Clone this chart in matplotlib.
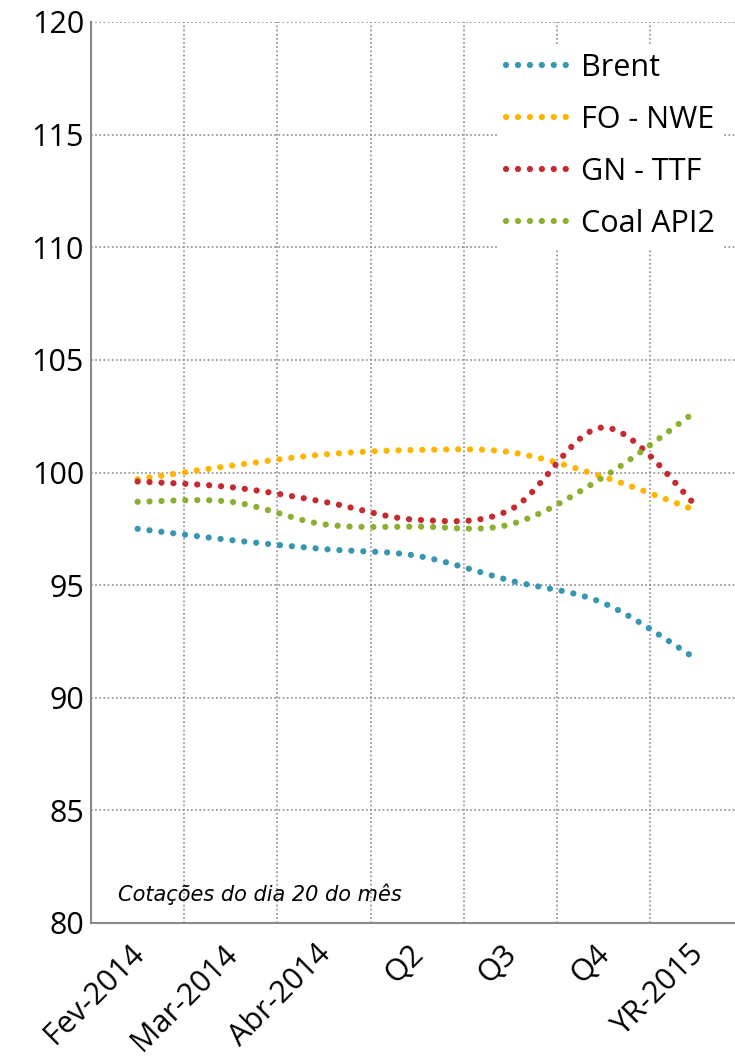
import numpy as np
import matplotlib.pyplot as plt
import matplotlib.transforms as mtransforms

categories = ["Fev-2014", "Mar-2014", "Abr-2014", "Q2", "Q3", "Q4", "YR-2015"]
brent = [97.5, 97.0, 96.6, 96.3, 95.2, 94.2, 91.7]
fo_nwe = [99.7, 100.3, 100.8, 101.0, 100.9, 99.8, 98.3]
gn_ttf = [99.6, 99.35, 98.7, 97.9, 98.35, 102.0, 98.5]
coal_api2 = [98.7, 98.7, 97.7, 97.6, 97.7, 99.8, 102.75]
y_ticks = list(range(80, 121, 5))

series = [
    ("Brent", brent, "#3797B1"),
    ("FO - NWE", fo_nwe, "#FFB400"),
    ("GN - TTF", gn_ttf, "#C62A30"),
    ("Coal API2", coal_api2, "#8BAF2F"),
]


def smooth(values, n=40):
    # Excel-style smoothed line: cubic Bezier through the points (Catmull-Rom)
    x = np.arange(len(values), dtype=float)
    y = np.asarray(values, dtype=float)
    px = np.concatenate([[x[0]], x, [x[-1]]])
    py = np.concatenate([[y[0]], y, [y[-1]]])
    t = np.linspace(0, 1, n)[:, None]
    out = []
    for i in range(len(x) - 1):
        p0 = np.array([px[i], py[i]])
        p1 = np.array([px[i + 1], py[i + 1]])
        p2 = np.array([px[i + 2], py[i + 2]])
        p3 = np.array([px[i + 3], py[i + 3]])
        c1 = p1 + (p2 - p0) / 6
        c2 = p2 - (p3 - p1) / 6
        seg = ((1 - t) ** 3) * p1 + 3 * ((1 - t) ** 2) * t * c1 + 3 * (1 - t) * t ** 2 * c2 + t ** 3 * p2
        out.append(seg if i == 0 else seg[1:])
    pts = np.vstack(out)
    return pts[:, 0], pts[:, 1]


plt.rcParams["font.family"] = ["Open Sans", "DejaVu Sans"]

fig = plt.figure(figsize=(7.35, 10.56), dpi=100)
ax = fig.add_axes([91 / 735, 1 - 923 / 1056, 644 / 735, 901 / 1056])

for name, vals, color in series:
    xs, ys = smooth(vals)
    ax.plot(xs, ys, color=color, lw=4.5, linestyle=(0, (0.01, 1.9)),
            dash_capstyle="round", label=name)

ax.set_xlim(-0.5, -0.5 + 644 / 93.2)
ax.set_ylim(80, 120)
ax.set_yticks(y_ticks)
ax.set_xticks(range(len(categories)))
ax.set_xticks(np.arange(0.5, len(categories) - 1, 1.0), minor=True)
ax.set_xticklabels(categories)

ax.grid(axis="y", which="major", color="#8c8c8c", linestyle=(0, (1, 1.5)), lw=1.2)
ax.grid(axis="x", which="minor", color="#8c8c8c", linestyle=(0, (1, 1.5)), lw=1.2)
ax.set_axisbelow(True)

for side in ("top", "right"):
    ax.spines[side].set_visible(False)
for side in ("left", "bottom"):
    ax.spines[side].set_color("#8a8a8a")
    ax.spines[side].set_linewidth(1.5)

ax.tick_params(axis="both", which="both", length=0)
ax.tick_params(axis="y", labelsize=22, pad=5)
ax.tick_params(axis="x", labelsize=22, pad=19)
offset = mtransforms.ScaledTranslation(2 / 100, 0, fig.dpi_scale_trans)
for lab in ax.get_xticklabels():
    lab.set_rotation(45)
    lab.set_ha("right")
    lab.set_va("center")
    lab.set_rotation_mode("anchor")
    lab.set_transform(lab.get_transform() + offset)

# note placed in pixel coordinates (from bottom-left of the figure)
fig.text(118 / 735, 1 - 901 / 1056, "Cotações do dia 20 do mês", fontsize=15,
         family="DejaVu Sans", style="italic", ha="left", va="baseline")

leg = ax.legend(loc="upper left", bbox_to_anchor=((497 - 91) / 644, (923 - 44) / 901),
                borderaxespad=0, frameon=True, fancybox=False, framealpha=1,
                facecolor="white", edgecolor="none", fontsize=22,
                handlelength=2.0, handletextpad=0.45, labelspacing=0.72, borderpad=0.3)

fig.savefig("out.png", dpi=100)
